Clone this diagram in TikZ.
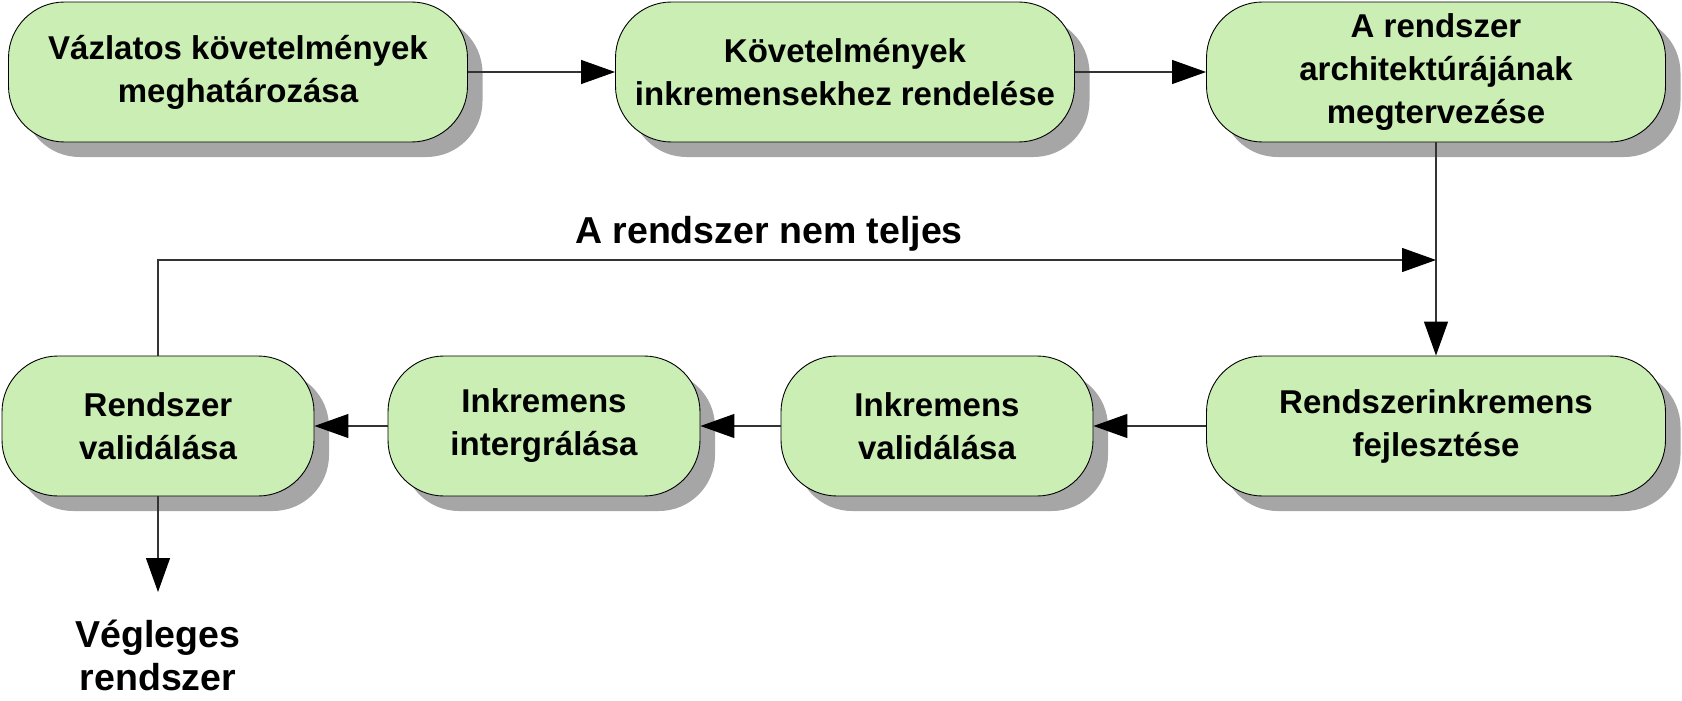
\documentclass[tikz,border=0pt]{standalone}
\usepackage{fontspec}
\setmainfont{Liberation Sans}
\usetikzlibrary{arrows.meta,shadows}
\definecolor{boxgreen}{RGB}{202,238,180}
\definecolor{shadowgray}{RGB}{166,166,166}
\tikzset{
  stepbox/.style={draw=black, line width=0.9pt, fill=boxgreen, rounded corners=56pt,
    minimum height=140pt, inner sep=0pt, align=center,
    font=\bfseries\fontsize{33}{43}\selectfont,
    drop shadow={shadow xshift=15pt, shadow yshift=-15pt, fill=shadowgray, opacity=1}},
  wide/.style={minimum width=459pt},
  narrow/.style={minimum width=312pt},
  conn/.style={draw=black!80, line width=1.2pt, -{Triangle[length=34pt,width=24pt,color=black]}},
  lbl/.style={font=\bfseries\fontsize{37.5}{43}\selectfont, align=center, inner sep=0pt}
}
\begin{document}
\begin{tikzpicture}[x=1pt,y=-1pt]
\useasboundingbox (0,0) rectangle (1682,701);
\node[stepbox,wide] (a) at (238,72) {Vázlatos követelmények\\meghatározása};
\node[stepbox,wide] (b) at (845,72) {Követelmények\\inkremensekhez rendelése};
\node[stepbox,wide] (c) at (1436,72) {A rendszer\\architektúrájának\\megtervezése};
\node[stepbox,wide] (g) at (1436,426) {Rendszerinkremens\\fejlesztése};
\node[stepbox,narrow] (f) at (937,426) {Inkremens\\validálása};
\node[stepbox,narrow] (e) at (544,426) {Inkremens\\intergrálása};
\node[stepbox,narrow] (d) at (158,426) {Rendszer\\validálása};
\node[lbl] (loop) at (769,234) {A rendszer nem teljes};
\node[lbl] (final) at (158,655) {Végleges\\rendszer};
\coordinate (lc) at (1436,260);
\coordinate (tip) at (158,592);
\draw[conn] (a) -- (b);
\draw[conn] (b) -- (c);
\draw[conn] (c) -- (g);
\draw[conn] (g) -- (f);
\draw[conn] (f) -- (e);
\draw[conn] (e) -- (d);
\draw[conn] (d.north) |- (lc);
\draw[conn] (d.south) -- (tip);
\end{tikzpicture}
\end{document}
